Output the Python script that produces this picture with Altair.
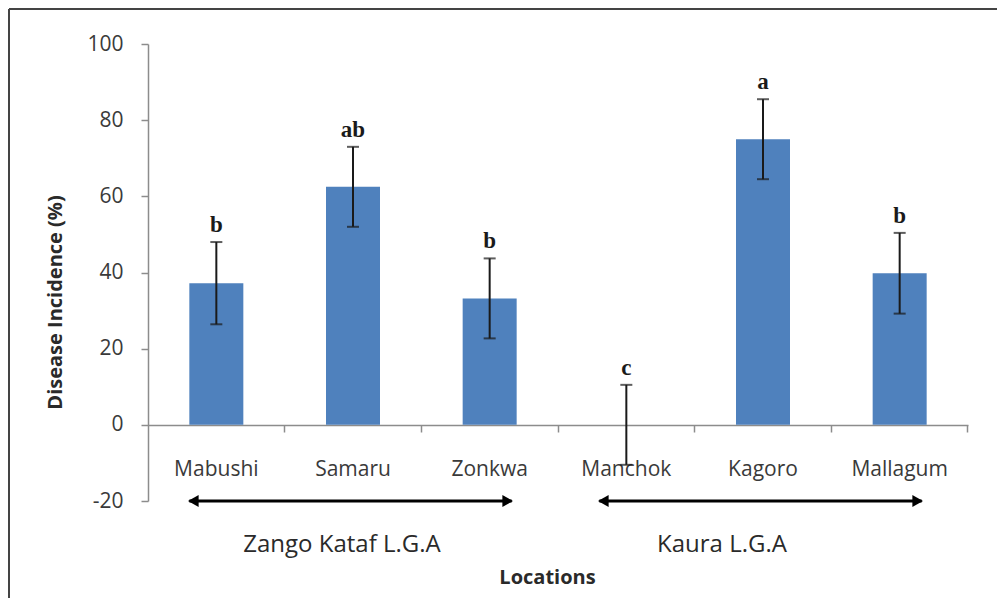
import altair as alt
import pandas as pd

# ---- data ----
locations = ["Mabushi", "Samaru", "Zonkwa", "Manchok", "Kagoro", "Mallagum"]
incidence = [37.2, 62.5, 33.2, 0.0, 75.0, 39.8]
std_error = [10.8, 10.5, 10.5, 10.5, 10.5, 10.6]
letters = ["b", "ab", "b", "c", "a", "b"]

group_names = ["Zango Kataf L.G.A", "Kaura L.G.A"]
group_start = ["Mabushi", "Manchok"]
group_end = ["Zonkwa", "Mallagum"]
group_mid = ["Samaru", "Kagoro"]

y_ticks = [-20, 0, 20, 40, 60, 80, 100]
y_domain = [-20, 100]
arrow_level = [-20, -20]

df = pd.DataFrame({
    "location": locations,
    "incidence": incidence,
    "lo": [v - e for v, e in zip(incidence, std_error)],
    "hi": [v + e for v, e in zip(incidence, std_error)],
    "letter": letters,
})
groups = pd.DataFrame({
    "name": group_names,
    "start": group_start,
    "end": group_end,
    "mid": group_mid,
    "level": arrow_level,
})

FONT = "Open Sans"
BLUE = "#4F81BD"
INK = "#1a1a1a"

xscale = alt.Scale(domain=locations, paddingInner=0, paddingOuter=0)
yscale = alt.Scale(domain=y_domain, nice=False, zero=False)

axis_ticks = alt.Axis(
    orient="bottom", offset=-76, bandPosition=1, labels=False, title=None,
    domain=True, domainColor="#8c8c8c", domainWidth=1.5,
    ticks=True, tickColor="#8c8c8c", tickSize=7, tickWidth=1.5, grid=False,
)
axis_labels = alt.Axis(
    orient="bottom", offset=-76, domain=False, ticks=False, tickSize=0, grid=False,
    labelPadding=33, labelFont=FONT, labelFontSize=21, labelColor="#3a3a3a",
    labelAngle=0, title="Locations", titleFont=FONT, titleFontSize=20,
    titleFontWeight="bold", titleColor="#2a2a2a", titleX=399, titleY=152,
    titleBaseline="middle", titleAlign="center",
)
yaxis = alt.Axis(
    values=y_ticks, grid=False, domainColor="#8c8c8c", domainWidth=1.5,
    tickColor="#8c8c8c", tickSize=7, tickWidth=1.5, labelPadding=18,
    labelFont=FONT, labelFontSize=21, labelColor="#3a3a3a",
    labelExpr="'' + datum.value",
    title="Disease Incidence (%)", titleFont=FONT, titleFontSize=20,
    titleFontWeight="bold", titleColor="#2a2a2a", titleX=-93, titleY=258,
    titleAngle=-90, titleBaseline="middle", titleAlign="center",
)

base = alt.Chart(df)


def xloc(field="location:N", axis=None):
    return alt.X(field, sort=locations, scale=xscale, axis=axis)


bars = base.mark_bar(size=54, color=BLUE).encode(
    x=xloc(axis=axis_ticks),
    y=alt.Y("incidence:Q", scale=yscale, axis=yaxis),
)

err = base.mark_rule(color=INK, strokeWidth=2).encode(
    x=xloc(axis=axis_labels),
    y=alt.Y("lo:Q", scale=yscale),
    y2="hi:Q",
)
cap_hi = base.mark_tick(color=INK, size=12, thickness=2, orient="horizontal").encode(
    x=xloc(),
    y=alt.Y("hi:Q", scale=yscale),
)
cap_lo = base.mark_tick(color=INK, size=12, thickness=2, orient="horizontal").encode(
    x=xloc(),
    y=alt.Y("lo:Q", scale=yscale),
)
letter_text = base.mark_text(
    font="Liberation Serif", fontSize=23, fontWeight="bold", color=INK,
    baseline="bottom", dy=-5,
).encode(
    x=xloc(),
    y=alt.Y("hi:Q", scale=yscale),
    text="letter:N",
)

gbase = alt.Chart(groups)
arrow_line = gbase.mark_rule(color="black", strokeWidth=3, xOffset=-27, x2Offset=22).encode(
    x=xloc("start:N"),
    x2="end:N",
    y=alt.Y("level:Q", scale=yscale),
)
head_l = gbase.mark_point(shape="triangle-left", filled=True, size=150, color="black",
                          opacity=1, xOffset=-23).encode(
    x=xloc("start:N"),
    y=alt.Y("level:Q", scale=yscale),
)
head_r = gbase.mark_point(shape="triangle-right", filled=True, size=150, color="black",
                          opacity=1, xOffset=18).encode(
    x=xloc("end:N"),
    y=alt.Y("level:Q", scale=yscale),
)
glabel_1 = alt.Chart(groups.iloc[[0]]).mark_text(
    font=FONT, fontSize=24, color="#2a2a2a", dy=44, dx=-11,
).encode(
    x=xloc("mid:N"),
    y=alt.Y("level:Q", scale=yscale),
    text="name:N",
)
glabel_2 = alt.Chart(groups.iloc[[1]]).mark_text(
    font=FONT, fontSize=24, color="#2a2a2a", dy=44, dx=-41,
).encode(
    x=xloc("mid:N"),
    y=alt.Y("level:Q", scale=yscale),
    text="name:N",
)

# outer frame (top and left edges of the figure border)
frame_top = alt.Chart(df.iloc[[0]]).mark_rule(color="#444444", strokeWidth=2).encode(
    x=alt.value(-139), x2=alt.value(849), y=alt.value(-35),
)
frame_left = alt.Chart(df.iloc[[0]]).mark_rule(color="#444444", strokeWidth=2).encode(
    x=alt.value(-139), y=alt.value(-35), y2=alt.value(554),
)

chart = alt.layer(
    frame_top, frame_left, bars, err, cap_hi, cap_lo, letter_text,
    arrow_line, head_l, head_r, glabel_1, glabel_2,
).resolve_axis(x="independent").properties(
    width=820, height=457,
    autosize=alt.AutoSizeParams(type="none"),
    padding={"left": 140, "top": 36, "right": 29, "bottom": 97},
    background="white",
).configure_view(stroke=None)

chart.save("out.html", embed_options={"renderer": "svg", "actions": False})
